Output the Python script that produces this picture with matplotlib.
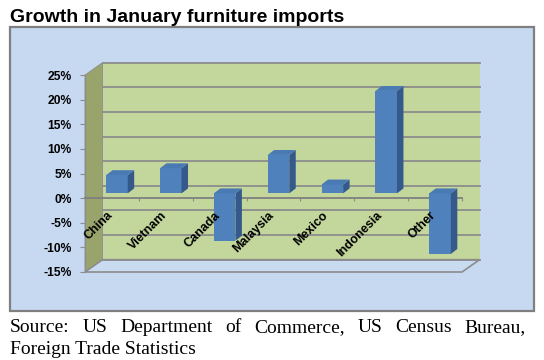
import matplotlib
matplotlib.use('Agg')
import matplotlib.pyplot as plt
from matplotlib.patches import Polygon, Rectangle

# data (% growth)
countries = ['China', 'Vietnam', 'Canada', 'Malaysia', 'Mexico', 'Indonesia', 'Other']
growth = [3.7, 5.1, -9.6, 7.8, 1.8, 20.8, -12.3]
yticks = [-15, -10, -5, 0, 5, 10, 15, 20, 25]

title = 'Growth in January furniture imports'
source_line1 = 'Source: US Department of Commerce, US Census Bureau,'
source_line2 = 'Foreign Trade Statistics'

# fake 3d look (data units)
DX, DY = 0.325, 2.5          # full depth of the box
BX, BY = 0.093, 0.97         # where the bars sit in depth
SDX, SDY = 0.12, 1.0         # bar depth
BW = 0.40

W, H = 544, 360
fig = plt.figure(figsize=(W / 100, H / 100), dpi=100)
fig.patch.set_facecolor('white')

# outer light blue box
box = Rectangle((10 / W, 1 - 311 / H), 524 / W, 284 / H, transform=fig.transFigure,
                facecolor='#C6D9F1', edgecolor='#7F7F7F', lw=1.6, zorder=-1)
fig.add_artist(box)

ax = fig.add_axes([85 / W, 1 - 272 / H, 377 / W, 197 / H])
ax.patch.set_visible(False)
ax.set_xlim(-0.5, 6.5)
ax.set_ylim(-15, 25)

n = len(countries)
x0, x1 = -0.5, n - 0.5
ylo, yhi = yticks[0], yticks[-1]

# back wall
ax.add_patch(Polygon([(x0 + DX, ylo + DY), (x1 + DX, ylo + DY), (x1 + DX, yhi + DY), (x0 + DX, yhi + DY)],
                     closed=True, fc='#C3D69B', ec='none', zorder=1, clip_on=False))
# side wall
ax.add_patch(Polygon([(x0, ylo), (x0 + DX, ylo + DY), (x0 + DX, yhi + DY), (x0, yhi)],
                     closed=True, fc='#98A46C', ec='#8C8C8C', lw=0.6, zorder=1.5, clip_on=False))
# floor
ax.add_patch(Polygon([(x0, ylo), (x1, ylo), (x1 + DX, ylo + DY), (x0 + DX, ylo + DY)],
                     closed=True, fc='#C9DBF1', ec='#8C8C8C', lw=1.2, zorder=1.5, clip_on=False))

# gridlines on back wall
for v in yticks:
    ax.plot([x0 + DX, x1 + DX], [v + DY, v + DY], color='#8C8C8C', lw=1.3, zorder=2, clip_on=False)

# bars: front, side and top faces
for i, v in enumerate(growth):
    lo, hi = BY + min(v, 0), BY + max(v, 0)
    l, r = i + BX - BW / 2, i + BX + BW / 2
    ax.bar(i + BX, v, width=BW, bottom=BY, color='#4F81BD', edgecolor='none', zorder=5)
    ax.add_patch(Polygon([(r, lo), (r, hi), (r + SDX, hi + SDY), (r + SDX, lo + SDY)],
                         closed=True, fc='#35598A', ec='none', zorder=5, clip_on=False))
    ax.add_patch(Polygon([(l, hi), (r, hi), (r + SDX, hi + SDY), (l + SDX, hi + SDY)],
                         closed=True, fc='#4A7AB3', ec='none', zorder=5, clip_on=False))

# axes
for s in ['top', 'right']:
    ax.spines[s].set_visible(False)
ax.spines['left'].set_color('#8C8C8C')
ax.spines['bottom'].set_position(('data', 0))
ax.spines['bottom'].set_color('#7F7F7F')
ax.spines['bottom'].set_linewidth(1.3)
ax.spines['bottom'].set_zorder(3)
ax.spines['left'].set_zorder(3)

ax.set_yticks(yticks)
ax.set_yticklabels([f'{v}%' for v in yticks], fontsize=8.7, fontweight='bold',
                   family='Liberation Sans')
ax.tick_params(axis='y', length=3.6, color='#8C8C8C', pad=6)
ax.set_xticks([k - 0.5 for k in range(1, n + 1)])
ax.set_xticklabels([])
ax.tick_params(axis='x', length=2, color='#8C8C8C', direction='out')

for i, name in enumerate(countries):
    ax.text(i + 0.06, -2.3, name, rotation=45, ha='right', va='top', fontsize=9,
            fontweight='bold', family='Liberation Sans', zorder=6)

# title
fig.text(10 / W, 1 - 22.5 / H, title, fontsize=14, fontweight='bold',
         family='Liberation Sans', va='baseline', ha='left')

# source, first line justified
words = source_line1.split()
texts = [fig.text(0, 1 - 332 / H, w, fontsize=14, family='Liberation Serif', va='baseline')
         for w in words]
fig.canvas.draw()
rend = fig.canvas.get_renderer()
widths = [t.get_window_extent(rend).width for t in texts]
left, right = 10, 526
gap = (right - left - sum(widths)) / (len(words) - 1)
xpos = left
for t, w in zip(texts, widths):
    t.set_x(xpos / W)
    xpos += w + gap
fig.text(10 / W, 1 - 354 / H, source_line2, fontsize=14, family='Liberation Serif', va='baseline')

fig.savefig('out.png', dpi=100)
